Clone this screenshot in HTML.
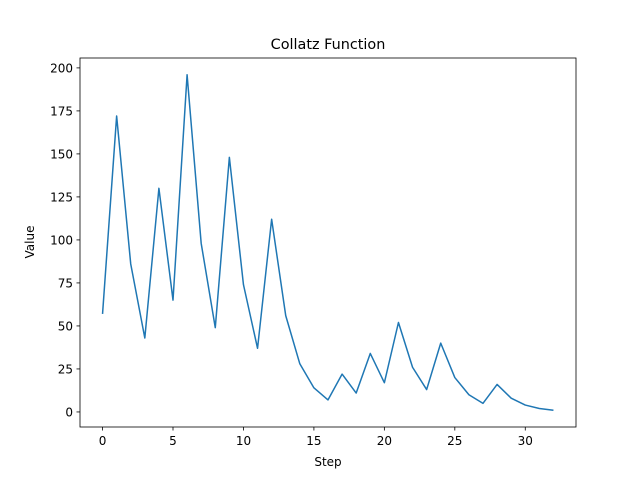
<!DOCTYPE html>
<html><head><meta charset="utf-8"><style>
body{margin:0;background:#fff}
svg text{font-family:"DejaVu Sans","Liberation Sans",sans-serif;fill:#000}
</style></head><body>
<svg id="chart" width="640" height="480">
<rect width="640" height="480" fill="#fff"/>
<text x="328" y="49" font-size="14.4" text-anchor="middle">Collatz Function</text>
<g id="xticks"></g><g id="yticks"></g>
<polyline id="line" fill="none" stroke="#1f77b4" stroke-width="1.5" stroke-linejoin="round"/>
<rect x="80" y="58" width="496" height="369" fill="none" stroke="#000" stroke-width="0.8"/>
<text x="328" y="466" font-size="12" text-anchor="middle">Step</text>
<text x="0" y="0" font-size="12" text-anchor="middle" transform="translate(34,242) rotate(-90)">Value</text>
</svg>
<script>
const values=[57,172,86,43,130,65,196,98,49,148,74,37,112,56,28,14,7,22,11,34,17,52,26,13,40,20,10,5,16,8,4,2,1];
const xTickValues=[0,5,10,15,20,25,30];
const yTickValues=[0,25,50,75,100,125,150,175,200];
const L=80,R=576,T=58,B=427;
const xmin=-1.6,xmax=values.length-1+1.6;
const vmax=Math.max(...values),vmin=Math.min(...values),pad=(vmax-vmin)*0.05;
const ymin=vmin-pad,ymax=vmax+pad;
const sx=v=>L+(v-xmin)/(xmax-xmin)*(R-L);
const sy=v=>B-(v-ymin)/(ymax-ymin)*(B-T);
const ns="http://www.w3.org/2000/svg";
document.getElementById('line').setAttribute('points',values.map((v,i)=>sx(i)+','+sy(v)).join(' '));
const xg=document.getElementById('xticks');
xTickValues.forEach(t=>{
 const l=document.createElementNS(ns,'line');
 l.setAttribute('x1',sx(t));l.setAttribute('x2',sx(t));l.setAttribute('y1',B);l.setAttribute('y2',B+3.5);l.setAttribute('stroke','#000');l.setAttribute('stroke-width','0.8');
 
 
 xg.appendChild(l);
 const tx=document.createElementNS(ns,'text');
 tx.setAttribute('x',sx(t));tx.setAttribute('y',B+18);tx.setAttribute('font-size','12');tx.setAttribute('text-anchor','middle');tx.textContent=t;
 
 
 xg.appendChild(tx);
});
const yg=document.getElementById('yticks');
yTickValues.forEach(t=>{
 const l=document.createElementNS(ns,'line');
 l.setAttribute('x1',L-3.5);l.setAttribute('x2',L);l.setAttribute('y1',sy(t));l.setAttribute('y2',sy(t));l.setAttribute('stroke','#000');l.setAttribute('stroke-width','0.8');
 
 
 yg.appendChild(l);
 const tx=document.createElementNS(ns,'text');
 tx.setAttribute('x',L-7);tx.setAttribute('y',sy(t)+4.5);tx.setAttribute('font-size','12');tx.setAttribute('text-anchor','end');tx.textContent=t;
 
 
 yg.appendChild(tx);
});
</script>
</body></html>
